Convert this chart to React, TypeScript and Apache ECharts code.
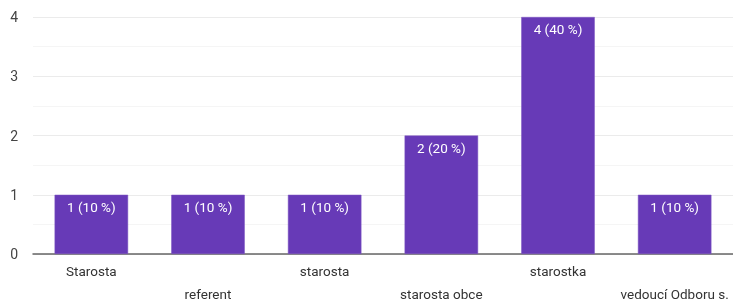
import React, { useEffect, useRef } from "react";
import * as echarts from "echarts";

const categories = ["Starosta", "referent", "starosta", "starosta obce", "starostka", "vedoucí Odboru s."];
const counts = [1, 1, 1, 2, 4, 1];
const percents = [10, 10, 10, 20, 40, 10];
const yTicks = [0, 1, 2, 3, 4];

export default function App() {
  const ref = useRef<HTMLDivElement>(null);
  useEffect(() => {
    if (!ref.current) return;
    const chart = echarts.init(ref.current, undefined, { renderer: "svg" });
    chart.setOption({
      animation: false,
      grid: { left: 33, right: 0, top: 17, bottom: 46, outerBoundsMode: "none", containLabel: false },
      xAxis: {
        type: "category",
        data: categories,
        axisTick: { show: false },
        axisLine: { lineStyle: { color: "#666", width: 1.5 } },
        axisLabel: {
          interval: 0,
          margin: 5,
          color: "#333",
          fontFamily: "Roboto",
          fontSize: 13.5,
          lineHeight: 23,
          formatter: (v: string, i: number) => (i % 2 === 1 ? "\n" + v : v),
        },
      },
      yAxis: {
        type: "value",
        min: yTicks[0],
        max: yTicks[yTicks.length - 1],
        interval: 1,
        axisLine: { show: false },
        axisTick: { show: false },
        axisLabel: { color: "#444", fontFamily: "Roboto", fontSize: 14, margin: 15 },
        splitLine: { lineStyle: { color: "#ebebeb", width: 1 } },
        minorTick: { show: false, splitNumber: 2 },
        minorSplitLine: { show: true, lineStyle: { color: "#f5f5f5", width: 1 } },
      },
      series: [
        {
          type: "bar",
          data: counts,
          barWidth: "63%",
          itemStyle: { color: "#673ab7", borderColor: "#7e57c2", borderWidth: 0.5 },
          label: {
            show: true,
            position: "insideTop",
            distance: 5,
            color: "#fff",
            fontFamily: "Roboto",
            fontSize: 13.5,
            formatter: (p: any) => `${counts[p.dataIndex]} (${percents[p.dataIndex]} %)`,
          },
        },
      ],
    });
    return () => chart.dispose();
  }, []);
  return <div ref={ref} style={{ position: "fixed", left: 0, top: 0, width: 733, height: 300 }} />;
}
